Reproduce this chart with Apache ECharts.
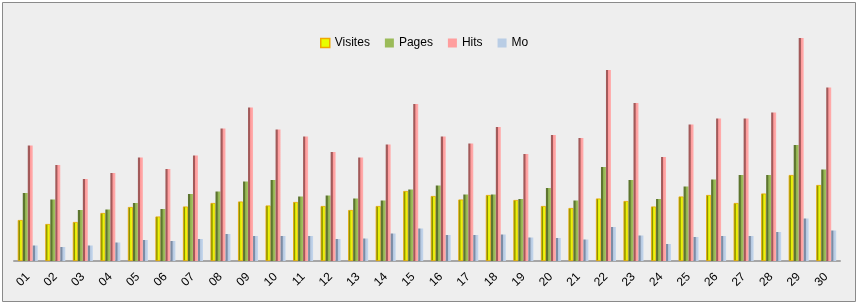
<!DOCTYPE html>
<html><head><meta charset="utf-8">
<script src="https://cdn.jsdelivr.net/npm/echarts@6/dist/echarts.min.js"></script>
<style>html,body{margin:0;padding:0;background:#fff}#c{width:860px;height:305px}</style>
</head><body><div id="c"></div>
<script>
const categories = ['01','02','03','04','05','06','07','08','09','10','11','12','13','14','15','16','17','18','19','20','21','22','23','24','25','26','27','28','29','30'];
const visites = [41,37,39,48,54,44.5,54.5,58,59.5,55.5,59,55,51,55,70,65,61.5,66,61,55,53,62.5,60,54.5,64.5,66,58,67.5,86,76];
const pages   = [68,61.5,51,51.5,58,52,67,69.5,79.5,81,64.5,65.5,62.5,60.5,71.5,75.5,66.5,66.5,62,73,60.5,94,81,62,74.5,81.5,86,86,116,91.5];
const hits    = [115.5,96,82,88,103.5,92,105.5,132.5,153.5,131.5,124.5,109,103.5,116.5,157,124.5,117.5,134,107,126,123,191,158,104,136.5,142.5,142.5,148.5,223,173.5];
const mo      = [15.5,14,15.5,18.5,21,20,22,27,25,25,25,22,22.5,27.5,32.5,26,26,26.5,23.5,23,21.5,34,25.5,17,24,25,25,29,42.5,30.5];
const seriesNames = ['Visites','Pages','Hits','Mo'];

function grad(dark, base, light){
  return {type:'linear',x:0,y:0,x2:1,y2:0,colorStops:[
    {offset:0,color:dark},{offset:0.35,color:dark},{offset:0.5,color:base},{offset:1,color:light}]};
}
const styles = [
  {color:grad('#8c9400','#e4ee00','#f2ff30'), borderColor:'#e8a800', borderWidth:0.8, legendColor:'#e8ff00'},
  {color:grad('#5d7530','#8fb04e','#a8c866'), legendColor:'#9bbb59'},
  {color:grad('#a25a5a','#ff9a9a','#ffb0b0'), legendColor:'#ff9e9e'},
  {color:grad('#7c8ca4','#b5c8e0','#c6d8ee'), legendColor:'#b9cde5'}
];
const data = [visites,pages,hits,mo];

const chart = echarts.init(document.getElementById('c'), null, {renderer:'canvas'});
chart.setOption({
  backgroundColor:'#ffffff',
  animation:false,
  graphic:[{type:'rect',z:-10,silent:true,shape:{x:2.5,y:2.5,width:853,height:299},
    style:{fill:'#eeeeee',stroke:'#8a8a8a',lineWidth:1}}],
  legend:{
    left:320, top:37, padding:0, itemWidth:9, itemHeight:9, itemGap:15, icon:'rect',
    textStyle:{fontFamily:'Liberation Sans',fontSize:12,color:'#000'},
    data: seriesNames.map((n,i)=>({name:n,itemStyle:{color:styles[i].legendColor,borderColor:i===0?'#f0a800':undefined,borderWidth:i===0?1.5:0}}))
  },
  grid:{left:14,right:20,top:11,bottom:44,containLabel:false},
  xAxis:{type:'category',data:categories,
    axisLine:{lineStyle:{color:'#a6a6a6',width:2}},
    axisTick:{show:false},
    axisLabel:{rotate:45,fontFamily:'Liberation Sans',fontSize:12,color:'#000',margin:14,interval:0}
  },
  yAxis:{type:'value',min:0,max:250,show:false,splitLine:{show:false}},
  series: seriesNames.map((n,i)=>({
    name:n,type:'bar',data:data[i],barWidth:5,barGap:'0%',
    itemStyle:{color:styles[i].color,borderColor:styles[i].borderColor||'transparent',borderWidth:styles[i].borderWidth||0},
  }))
});
</script></body></html>
